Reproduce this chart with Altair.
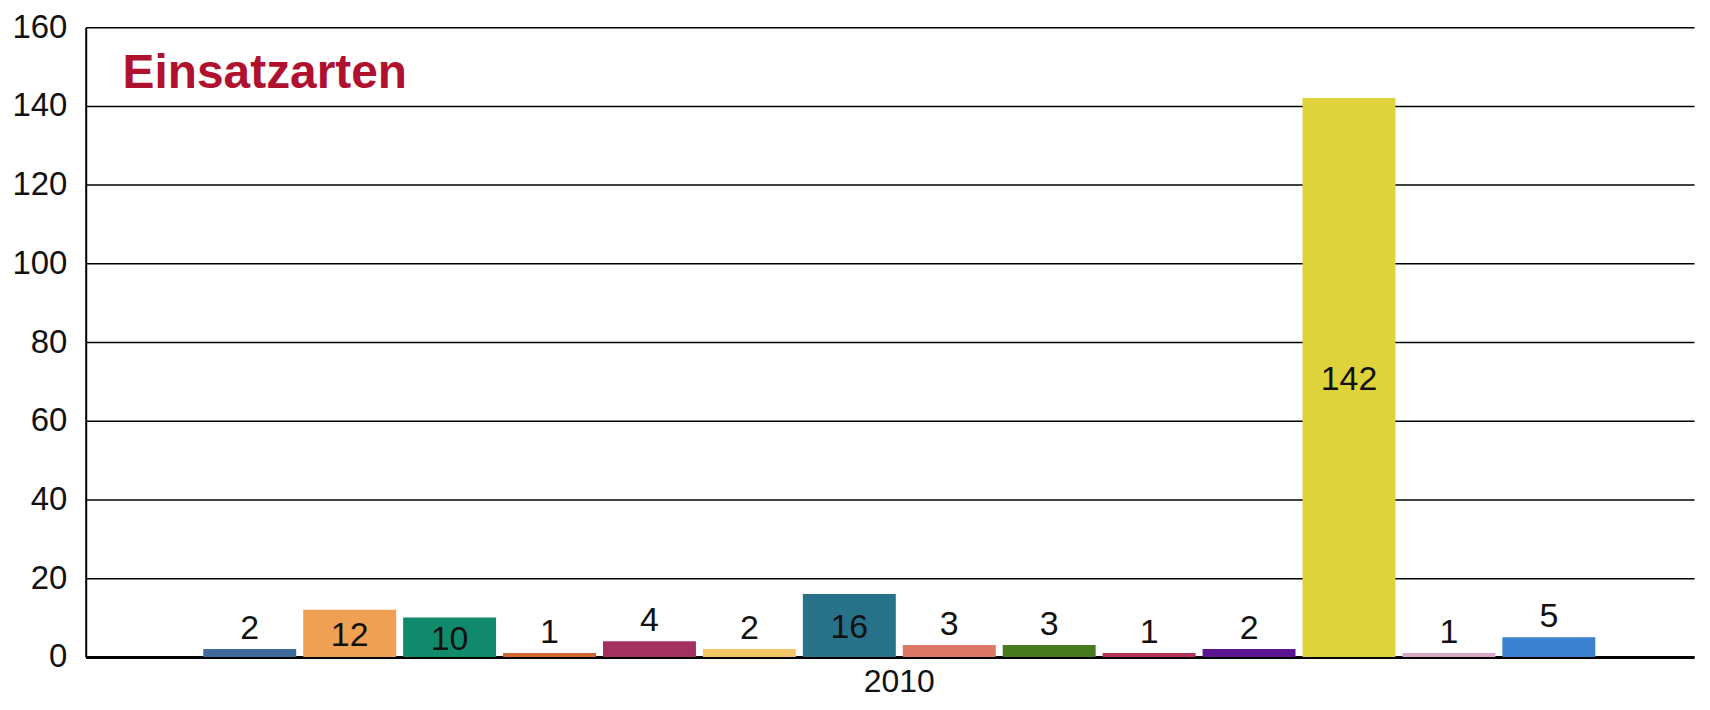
import altair as alt
import pandas as pd

jahr = ["2010"] * 14
kategorien = [f"Einsatzart {i}" for i in range(1, 15)]
werte = [2, 12, 10, 1, 4, 2, 16, 3, 3, 1, 2, 142, 1, 5]
farben = ["#3E6A9C", "#EFA052", "#118A6C", "#D2662F", "#A3305F", "#F4C766",
          "#287289", "#DB7664", "#477A1F", "#B23257", "#5C1590", "#DFD33B",
          "#D6AAC6", "#3A82CF"]
y_ticks = [0, 20, 40, 60, 80, 100, 120, 140, 160]
titel = "Einsatzarten"

df = pd.DataFrame({"Jahr": jahr, "Kategorie": kategorien, "Wert": werte})

FONT = "Liberation Sans"

x_enc = alt.X("Jahr:N", title=None,
              scale=alt.Scale(paddingInner=0, paddingOuter=0.0748, align=0.545),
              axis=alt.Axis(labelAngle=0, labelFontSize=32, labelPadding=10,
                            labelColor="#111111", domainColor="#000000",
                            domainWidth=3, ticks=False, grid=False, labelFont=FONT))
xoff_enc = alt.XOffset("Kategorie:N", sort=kategorien,
                       scale=alt.Scale(paddingInner=0.07, paddingOuter=0.035))
y_scale = alt.Scale(domain=[0, 160], nice=False)

bars = alt.Chart(df).mark_bar().encode(
    x=x_enc,
    xOffset=xoff_enc,
    y=alt.Y("Wert:Q", title=None, scale=y_scale,
            axis=alt.Axis(values=y_ticks, labelFontSize=33, labelPadding=19,
                          labelColor="#111111", labelFont=FONT,
                          domainColor="#000000", domainWidth=2,
                          ticks=False, grid=True, gridColor="#000000",
                          gridWidth=1.5)),
    color=alt.Color("Kategorie:N", sort=kategorien,
                    scale=alt.Scale(domain=kategorien, range=farben),
                    legend=None),
)

oben = alt.Chart(df).transform_filter("datum.Wert < 10").mark_text(
    fontSize=34, font=FONT, color="#111111", baseline="middle", dy=-20
).encode(
    x="Jahr:N", xOffset=alt.XOffset("Kategorie:N", sort=kategorien),
    y=alt.Y("Wert:Q", scale=y_scale), text="Wert:Q"
)

innen = alt.Chart(df).transform_filter("datum.Wert >= 10").transform_calculate(
    mitte="datum.Wert / 2"
).mark_text(
    fontSize=34, font=FONT, color="#111111", baseline="middle", dy=3
).encode(
    x="Jahr:N", xOffset=alt.XOffset("Kategorie:N", sort=kategorien),
    y=alt.Y("mitte:Q", scale=y_scale), text="Wert:Q"
)

titel_text = alt.Chart(pd.DataFrame({"t": [titel]})).mark_text(
    fontSize=48, font=FONT, fontWeight="bold", color="#B0112F",
    align="left", baseline="alphabetic"
).encode(x=alt.value(37), y=alt.value(61), text="t:N")

chart = alt.layer(bars, oben, innen, titel_text).properties(
    width=1614, height=632,
    autosize=alt.AutoSizeParams(type="none"),
    padding={"left": 78, "top": 18, "right": 8, "bottom": 44},
    background="#FFFFFF",
).configure_view(stroke=None)

chart.save("out.html", embed_options={"renderer": "svg", "actions": False})
